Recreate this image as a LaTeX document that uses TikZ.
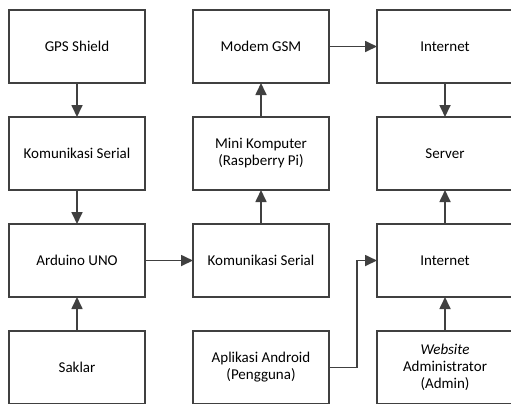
\documentclass[tikz,border=0pt]{standalone}
\usepackage{fontspec}
\setmainfont{Carlito}
\usepackage{tikz}
\usetikzlibrary{arrows.meta, positioning}
\definecolor{linegray}{RGB}{64,64,64}

\begin{document}
\begin{tikzpicture}[x=1bp, y=1bp,
    node distance=34bp and 48bp,
    blok/.style={draw=linegray, line width=1.7bp, outer sep=0pt,
      minimum width=136bp, minimum height=73bp, align=center,
      font=\fontsize{15bp}{17bp}\selectfont, text=black},
    panah/.style={draw=linegray, line width=1.7bp,
      -{Triangle[length=12bp, width=11bp]}}]
  \useasboundingbox (0,0) rectangle (511,-403);
  \clip (0,0) rectangle (511,-403);
  % kolom kiri
  \node[blok] (gps) at (77,-46.5) {GPS Shield};
  \node[blok, below=of gps] (serial1) {Komunikasi Serial};
  \node[blok, below=of serial1] (arduino) {Arduino UNO};
  \node[blok, below=of arduino] (saklar) {Saklar};
  % kolom tengah
  \node[blok, right=of arduino] (serial2) {Komunikasi Serial};
  \node[blok, above=of serial2] (minipc) {Mini Komputer\\(Raspberry Pi)};
  \node[blok, above=of minipc] (modem) {Modem GSM};
  \node[blok, below=of serial2] (android) {Aplikasi Android\\(Pengguna)};
  % kolom kanan
  \node[blok, right=of modem] (net1) {Internet};
  \node[blok, below=of net1] (server) {Server};
  \node[blok, below=of server] (net2) {Internet};
  \node[blok, below=of net2] (web) {\textit{Website}\\Administrator\\(Admin)};
  \coordinate (belok) at ([xshift=28bp]android.east);
  % panah
  \draw[panah] (gps) -- (serial1);
  \draw[panah] (serial1) -- (arduino);
  \draw[panah] (saklar) -- (arduino);
  \draw[panah] (arduino) -- (serial2);
  \draw[panah] (serial2) -- (minipc);
  \draw[panah] (minipc) -- (modem);
  \draw[panah] (modem) -- (net1);
  \draw[panah] (net1) -- (server);
  \draw[panah] (net2) -- (server);
  \draw[panah] (web) -- (net2);
  \draw[panah] (android.east) -- (belok) |- (net2.west);
\end{tikzpicture}
\end{document}
